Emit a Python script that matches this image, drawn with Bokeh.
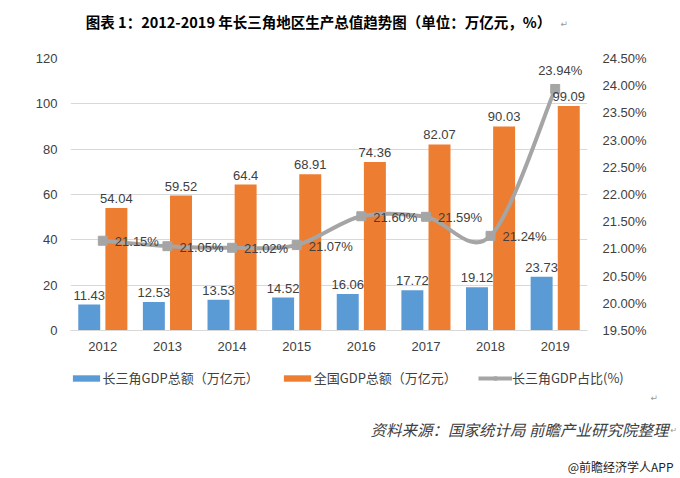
from bokeh.plotting import figure
from bokeh.layouts import column
from bokeh.models import (Range1d, LinearAxis, FixedTicker, PrintfTickFormatter,
                          ColumnDataSource, Label, Legend, LegendItem, CDSView, IndexFilter)
from bokeh.transform import dodge
from bokeh.core.properties import value
from bokeh.embed import file_html
from bokeh.resources import INLINE

# ---- data ----
years = ["2012", "2013", "2014", "2015", "2016", "2017", "2018", "2019"]
yrd_gdp = [11.43, 12.53, 13.53, 14.52, 16.06, 17.72, 19.12, 23.73]
national_gdp = [54.04, 59.52, 64.4, 68.91, 74.36, 82.07, 90.03, 99.09]
yrd_share = [21.15, 21.05, 21.02, 21.07, 21.60, 21.59, 21.24, 23.94]
left_ticks = [0, 20, 40, 60, 80, 100, 120]
right_ticks = [19.5, 20.0, 20.5, 21.0, 21.5, 22.0, 22.5, 23.0, 23.5, 24.0, 24.5]

title_text = "图表 1：2012-2019 年长三角地区生产总值趋势图（单位：万亿元，%）"
legend_labels = ["长三角GDP总额（万亿元）", "全国GDP总额（万亿元）", "长三角GDP占比(%)"]
source_text = "资料来源：国家统计局 前瞻产业研究院整理"
watermark_text = "@前瞻经济学人APP"

# ---- styles ----
BLUE = "#5B9BD5"
ORANGE = "#ED7D31"
GRAY = "#A5A5A5"
GRID = "#D9D9D9"
TXT = "#404040"
NUM_FONT = "Liberation Sans"
CJK_FONT = "Noto Sans CJK SC"
W = 680
NAN = float("nan")


def blank(height):
    f = figure(width=W, height=height, output_backend="svg", toolbar_location=None,
               x_range=Range1d(0, W), y_range=Range1d(height, 0),
               x_axis_type=None, y_axis_type=None,
               min_border=0, min_border_left=0, min_border_right=0,
               min_border_top=0, min_border_bottom=0, frame_align=False)
    f.outline_line_color = None
    f.xgrid.visible = False
    f.ygrid.visible = False
    return f


def style_axis(ax, standoff):
    ax.major_tick_line_color = None
    ax.minor_tick_line_color = None
    ax.major_tick_out = 0
    ax.major_tick_in = 0
    ax.minor_tick_out = 0
    ax.major_label_standoff = standoff
    ax.major_label_text_font = NUM_FONT
    ax.major_label_text_font_size = "13px"
    ax.major_label_text_color = TXT


# ---- title strip ----
top = blank(50)
top.add_layout(Label(x=318, y=21, text=title_text,
                     text_font=CJK_FONT, text_font_style="bold", text_font_size="14.5px",
                     text_align="center", text_baseline="middle", text_color="#000000"))
top.add_layout(Label(x=560, y=23, text="↵", text_font="DejaVu Sans", text_font_size="9px",
                     text_align="left", text_baseline="middle", text_color="#999999"))

# ---- main chart ----
idx = list(range(len(years)))
src = ColumnDataSource(dict(
    x=idx, yrd=yrd_gdp, nat=national_gdp, share=yrd_share,
    yrd_lbl=[f"{v:g}" for v in yrd_gdp],
    nat_lbl=[f"{v:g}" for v in national_gdp],
    share_lbl=[f"{v:.2f}%" for v in yrd_share],
))

p = figure(width=W, height=310, output_backend="svg", toolbar_location=None,
           x_range=Range1d(-0.5, len(years) - 0.5), y_range=Range1d(0, 120),
           min_border_left=70, min_border_right=93, min_border_top=8, min_border_bottom=30,
           frame_align=False)
p.outline_line_color = None
p.extra_y_ranges = {"pct": Range1d(19.5, 24.5)}

p.xaxis.ticker = FixedTicker(ticks=idx)
p.xaxis.major_label_overrides = {i: y for i, y in zip(idx, years)}
p.xaxis.axis_line_color = GRID
style_axis(p.xaxis[0], 11)
p.xgrid.visible = False

ly = p.yaxis[0]
ly.ticker = FixedTicker(ticks=left_ticks)
ly.axis_line_color = None
style_axis(ly, 13)
p.ygrid.grid_line_color = GRID

ry = LinearAxis(y_range_name="pct", ticker=FixedTicker(ticks=right_ticks),
                formatter=PrintfTickFormatter(format="%.2f%%"))
ry.axis_line_color = None
style_axis(ry, 15)
p.add_layout(ry, "right")

p.vbar(x=dodge("x", -0.21), top="yrd", width=0.34, source=src,
       fill_color=BLUE, line_color=None)
p.vbar(x=dodge("x", 0.21), top="nat", width=0.34, source=src,
       fill_color=ORANGE, line_color=None)

# smoothed share line: bezier segments with control points derived from the data
n = len(yrd_share)


def pt(i):
    i = max(0, min(n - 1, i))
    return idx[i], yrd_share[i]


bez = dict(x0=[], y0=[], x1=[], y1=[], cx0=[], cy0=[], cx1=[], cy1=[])
for i in range(n - 1):
    xa, ya = pt(i)
    xb, yb = pt(i + 1)
    xm, ym = pt(i - 1)
    xp, yp = pt(i + 2)
    bez["x0"].append(xa); bez["y0"].append(ya)
    bez["x1"].append(xb); bez["y1"].append(yb)
    bez["cx0"].append(xa + (xb - xm) / 6); bez["cy0"].append(ya + (yb - ym) / 6)
    bez["cx1"].append(xb - (xp - xa) / 6); bez["cy1"].append(yb - (yp - ya) / 6)
p.bezier(x0="x0", y0="y0", x1="x1", y1="y1", cx0="cx0", cy0="cy0",
         cx1="cx1", cy1="cy1", source=ColumnDataSource(bez),
         line_color=GRAY, line_width=4, y_range_name="pct")
p.scatter(x="x", y="share", source=src, marker="square", size=9,
          fill_color=GRAY, line_color=GRAY, y_range_name="pct")

lbl_kw = dict(text_font=value(NUM_FONT), text_font_size="13px", text_color=TXT)
p.text(x=dodge("x", -0.21), y="yrd", text="yrd_lbl", source=src,
       text_align="center", text_baseline="bottom", y_offset=-5, **lbl_kw)
p.text(x=dodge("x", 0.21), y="nat", text="nat_lbl", source=src,
       text_align="center", text_baseline="bottom", y_offset=-5, **lbl_kw)
p.text(x="x", y="share", text="share_lbl", source=src,
       view=CDSView(filter=IndexFilter(list(range(n - 1)))),
       text_align="left", text_baseline="middle", x_offset=12, y_offset=1,
       y_range_name="pct", **lbl_kw)
p.text(x="x", y="share", text="share_lbl", source=src,
       view=CDSView(filter=IndexFilter([n - 1])),
       text_align="center", text_baseline="middle", x_offset=5, y_offset=-18,
       y_range_name="pct", **lbl_kw)

# ---- bottom strip: legend, source, watermark ----
bot = blank(118)
# legend proxies (style only, nothing visible is drawn)
lg_blue = bot.vbar(x=[NAN], top=[NAN], width=1, fill_color=BLUE, line_color=None)
lg_orange = bot.vbar(x=[NAN], top=[NAN], width=1, fill_color=ORANGE, line_color=None)
lg_line = bot.line(x=[NAN], y=[NAN], line_color=GRAY, line_width=4)
lg_mark = bot.scatter(x=[NAN], y=[NAN], marker="square", size=9,
                      fill_color=GRAY, line_color=GRAY)
legend = Legend(items=[
    LegendItem(label=legend_labels[0], renderers=[lg_blue]),
    LegendItem(label=legend_labels[1], renderers=[lg_orange]),
    LegendItem(label=legend_labels[2], renderers=[lg_line, lg_mark]),
], orientation="horizontal", location=(68.6, 91))
legend.border_line_color = None
legend.background_fill_alpha = 0
legend.padding = 0
legend.margin = 0
legend.spacing = 21
legend.glyph_width = 34
legend.glyph_height = 8
legend.label_height = 16
legend.label_standoff = 0
legend.label_text_font = CJK_FONT
legend.label_text_font_size = "13px"
legend.label_text_color = TXT
bot.add_layout(legend)

bot.add_layout(Label(x=650, y=37, text="↵", text_font="DejaVu Sans", text_font_size="9px",
                     text_align="left", text_baseline="middle", text_color="#999999"))
bot.add_layout(Label(x=668, y=68, text=source_text,
                     text_font=CJK_FONT, text_font_style="italic", text_font_size="15.5px",
                     text_align="right", text_baseline="middle", text_color="#404040"))
bot.add_layout(Label(x=670, y=70, text="↵", text_font="DejaVu Sans", text_font_size="8px",
                     text_align="left", text_baseline="middle", text_color="#999999"))
bot.add_layout(Label(x=673, y=106, text=watermark_text,
                     text_font=CJK_FONT, text_font_size="12px",
                     text_align="right", text_baseline="middle", text_color="#222222"))

layout = column(top, p, bot, spacing=0)
open("out.html", "w").write(file_html(layout, INLINE))
